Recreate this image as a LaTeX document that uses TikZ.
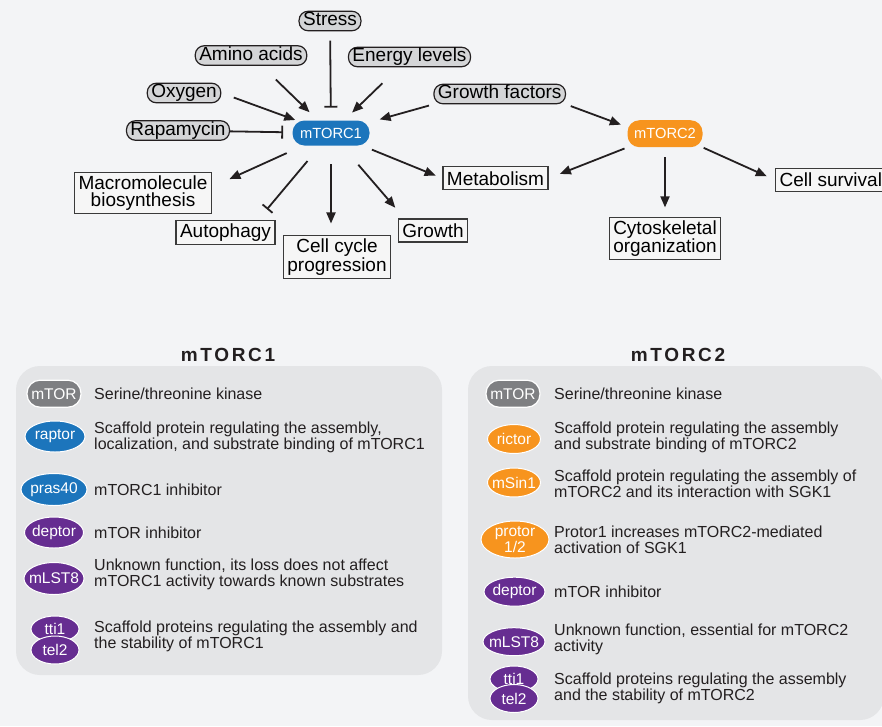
\documentclass[tikz,border=0pt]{standalone}
\usepackage{fontspec}
\setmainfont{Liberation Sans}
\usetikzlibrary{arrows.meta}
\usetikzlibrary{shapes.geometric}

\definecolor{bgcol}{HTML}{F3F4F6}
\definecolor{panelgray}{HTML}{E4E5E7}
\definecolor{pillgray}{HTML}{D4D5D7}
\definecolor{boxfill}{HTML}{F6F6F6}
\definecolor{boxline}{HTML}{3A3A3A}
\definecolor{ink}{HTML}{231F20}
\definecolor{tcblue}{HTML}{1C75BC}
\definecolor{tcorange}{HTML}{F7941E}
\definecolor{tcpurple}{HTML}{662D91}
\definecolor{tcgray}{HTML}{7E7F82}

\begin{document}
\begin{tikzpicture}[x=1pt, y=-1pt,
   signal/.style={draw=ink, fill=pillgray, line width=1.2pt, rounded corners=9pt,
      inner xsep=4pt, inner ysep=0pt, minimum height=19.5pt,
      text height=13.7pt, text depth=4pt, font=\fontsize{19}{17}\selectfont},
   outcome/.style={draw=boxline, fill=boxfill, line width=1.2pt, align=center,
      inner xsep=4pt, inner ysep=3pt, minimum height=23pt,
      font=\fontsize{19}{17.5}\selectfont},
   complex/.style={fill=#1, text=white, rounded corners=12pt, minimum width=77pt,
      minimum height=25pt, inner sep=0pt, font=\fontsize{14.7}{15}\selectfont},
   act/.style={draw=ink, line width=1.8pt, -{Triangle[length=11pt,width=9pt]}},
   inh/.style={draw=ink, line width=1.8pt, -{Bar[width=13pt]}},
   subunit/.style={ellipse, fill=#1, draw=white, line width=1pt, text=white,
      inner xsep=-12pt, inner ysep=-2pt, font=\fontsize{15.5}{14}\selectfont},
   kinase/.style={fill=tcgray, draw=white, line width=1.2pt, text=white,
      rounded corners=13pt, minimum width=54pt, minimum height=27pt, inner sep=0pt,
      font=\fontsize{15.5}{14}\selectfont},
   role/.style={anchor=west, inner sep=0pt, align=left, text=ink,
      font=\fontsize{16}{16}\selectfont},
   paneltitle/.style={text=ink,
      font={\fontsize{19}{19}\selectfont\bfseries\addfontfeature{LetterSpace=14}}},
   panel/.style={fill=panelgray, rounded corners=24pt}
]
   % page
   \fill[bgcol] (0,0) rectangle (882,726);
   \useasboundingbox (0,0) rectangle (882,726);

   % signalling map
   \node[signal] (stress) at (330,21) {Stress};
   \node[signal] (amino) at (251,55.5) {Amino acids};
   \node[signal] (energy) at (409.5,57) {Energy levels};
   \node[signal] (oxygen) at (184,93) {Oxygen};
   \node[signal] (growthf) at (499.7,94) {Growth factors};
   \node[signal] (rapa) at (178,130.5) {Rapamycin};

   \node[complex=tcblue] (mtorc1) at (331,133) {mTORC1};
   \node[complex=tcorange, minimum width=75pt, minimum height=27pt] (mtorc2) at (665,133.7) {mTORC2};

   \node[outcome] (macro) at (143,193) {Macromolecule\\biosynthesis};
   \node[outcome] (autoph) at (225.5,232.5) {Autophagy};
   \node[outcome] (cellcyc) at (337,257) {Cell cycle\\progression};
   \node[outcome] (growth) at (433,230.5) {Growth};
   \node[outcome] (metab) at (495.5,178.3) {Metabolism};
   \node[outcome, anchor=west] (survival) at (775,180) {Cell survival};
   \node[outcome] (cytosk) at (665,238.5) {Cytoskeletal\\organization};

   \foreach \src/\dst/\s/\e in {amino/mtorc1/19.7/11.6, energy/mtorc1/22.9/11.1,
         oxygen.east/mtorc1/13.2/1, growthf.south west/mtorc1/4.5/10.3,
         growthf.south east/mtorc2.170/5/6.9, mtorc1/macro.5/17.9/19.1,
         mtorc1/growth.157/25.1/14.1, mtorc1/metab.west/10.5/7.2,
         mtorc2.south west/metab.east/3/12, mtorc2/cytosk/10/9.3,
         mtorc2.south east/survival.west/1/9}
   \draw[act, shorten <=\s pt, shorten >=\e pt] (\src) -- (\dst);

   \draw[act, shorten <=18.3pt, shorten >=11.7pt] (mtorc1) -- (mtorc1 |- cellcyc.north);

   \draw[inh, shorten <=9.2pt, shorten >=12.7pt] (stress) -- (mtorc1);
   \draw[inh, shorten >=9.2pt] (rapa) -- (mtorc1);
   \draw[inh, shorten <=20pt, shorten >=14pt] (mtorc1) -- (autoph.21);

   % subunit tables
   \node[paneltitle] (title1) at (228,355) {mTORC1};
   \node[paneltitle] (title2) at (678,355) {mTORC2};
   \fill[panel] (16,366) rectangle (442,675);
   \fill[panel] (468,366) rectangle (884,720);

   \node[kinase] (lmtor) at (54,393.7) {mTOR};
   \node[role] (lmtortxt) at (94,393.5) {Serine/threonine kinase};
   \node[subunit=tcblue, minimum width=60pt, minimum height=31pt] (lraptor) at (55,436.5) {raptor};
   \node[role] (lraptortxt) at (94,437) {Scaffold protein regulating the assembly,\\localization, and substrate binding of mTORC1};
   \node[subunit=tcblue, minimum width=66pt, minimum height=32pt] (lpras) at (54,489.5) {pras40};
   \node[role] (lprastxt) at (94,489.5) {mTORC1 inhibitor};
   \node[subunit=tcpurple, minimum width=59pt, minimum height=31pt] (ldeptor) at (54,532.5) {deptor};
   \node[role] (ldeptortxt) at (94,532.5) {mTOR inhibitor};
   \node[subunit=tcpurple, minimum width=60pt, minimum height=32pt] (lmlst) at (54,578.5) {mLST8};
   \node[role] (lmlsttxt) at (94,574) {Unknown function, its loss does not affect\\mTORC1 activity towards known substrates};
   \node[subunit=tcpurple, minimum width=48pt, minimum height=26pt] (ltti) at (55,629) {tti1};
   \node[subunit=tcpurple, minimum width=48pt, minimum height=28pt] (ltel) at (55,650) {tel2};
   \node[role] (ltitxt) at (94,636.5) {Scaffold proteins regulating the assembly and\\the stability of mTORC1};

   \node[kinase] (rmtor) at (513,393.7) {mTOR};
   \node[role] (rmtortxt) at (554,393.5) {Serine/threonine kinase};
   \node[subunit=tcorange, minimum width=53pt, minimum height=29pt] (rrictor) at (514,439) {rictor};
   \node[role] (rrictortxt) at (554,437.5) {Scaffold protein regulating the assembly\\and substrate binding of mTORC2};
   \node[subunit=tcorange, minimum width=53pt, minimum height=29pt] (rmsin) at (514,482.5) {mSin1};
   \node[role] (rmsintxt) at (554,484) {Scaffold protein regulating the assembly of\\mTORC2 and its interaction with SGK1};
   \node[subunit=tcorange, minimum width=68pt, minimum height=37pt, align=center,
      font=\fontsize{15.5}{13}\selectfont] (rprotor) at (515,539.5) {protor\\1/2};
   \node[role] (rprotortxt) at (554,540) {Protor1 increases mTORC2-mediated\\activation of SGK1};
   \node[subunit=tcpurple, minimum width=61pt, minimum height=29pt] (rdeptor) at (514.5,591.7) {deptor};
   \node[role] (rdeptortxt) at (554,591.7) {mTOR inhibitor};
   \node[subunit=tcpurple, minimum width=62pt, minimum height=28pt] (rmlst) at (514,641.7) {mLST8};
   \node[role] (rmlsttxt) at (554,639.5) {Unknown function, essential for mTORC2\\activity};
   \node[subunit=tcpurple, minimum width=48pt, minimum height=26pt] (rtti) at (514,679) {tti1};
   \node[subunit=tcpurple, minimum width=48pt, minimum height=28pt] (rtel) at (514,698.5) {tel2};
   \node[role] (rtitxt) at (554,688.5) {Scaffold proteins regulating the assembly\\and the stability of mTORC2};
\end{tikzpicture}
\end{document}
